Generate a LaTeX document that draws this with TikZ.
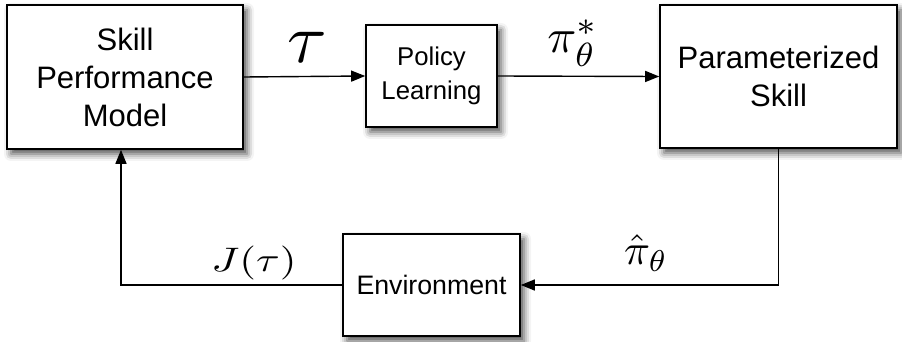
\documentclass[tikz,border=0pt]{standalone}
\usepackage{fontspec}
\usepackage{graphicx}
\setmainfont{Liberation Sans}
\usetikzlibrary{arrows.meta,shadows.blur,calc}
\begin{document}
\begin{tikzpicture}[x=1pt,y=1pt,
  blk/.style={draw=black,line width=1.6pt,fill=white,inner sep=0pt,align=center,
    blur shadow={shadow xshift=4pt,shadow yshift=-5pt,shadow blur radius=7pt,shadow opacity=70}},
  conn/.style={line width=1.4pt,-{Triangle[length=14pt,width=11pt]}},
  lbl/.style={inner sep=0pt}]
\useasboundingbox (0,0) rectangle (902,341);
\node[blk,minimum width=236pt,minimum height=144pt,font=\fontsize{31}{38}\selectfont] (spm) at (125,264) {Skill\\Performance\\Model};
\node[blk,minimum width=131pt,minimum height=102pt,font=\fontsize{25.7}{34}\selectfont] (pl) at (431.5,265) {Policy\\Learning};
\node[blk,minimum width=237pt,minimum height=143pt,font=\fontsize{31}{38}\selectfont] (ps) at (778.5,264.5) {Parameterized\\Skill};
\node[blk,minimum width=177pt,minimum height=102pt,font=\fontsize{26.7}{34}\selectfont] (env) at (431.5,56) {Environment};
\draw[conn] (spm.east) -- (pl.west);
\draw[conn] (pl.east) -- (ps.west);
\draw[conn] (ps.south) |- (env.east);
\draw[conn] (env.west) -| ([xshift=-4pt]spm.south);
\node[lbl] (tau) at (307,294) {\scalebox{7.2}[7]{$\tau$}};
\node[lbl] (pistar) at (573,298) {\scalebox{4.8}{$\pi^*_\theta$}};
\node[lbl] (jtau) at (254,78) {\scalebox{4.3}[3.4]{$J(\tau)$}};
\node[lbl] (pihat) at (646,88) {\scalebox{4.3}{$\hat\pi_\theta$}};
\end{tikzpicture}
\end{document}
